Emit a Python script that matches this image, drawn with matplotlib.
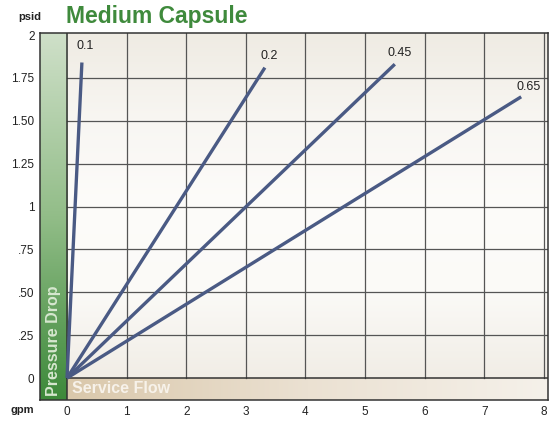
import matplotlib
matplotlib.use("Agg")
import matplotlib.pyplot as plt
import numpy as np
from matplotlib.colors import LinearSegmentedColormap

# data (line end points, start at origin)
labels = ["0.1", "0.2", "0.45", "0.65"]
end_x = [0.25, 3.32, 5.50, 7.62]
end_y = [1.84, 1.81, 1.83, 1.64]
label_x = [0.30, 3.40, 5.58, 7.75]
label_y = [1.90, 1.84, 1.86, 1.66]

xticks = [0, 1, 2, 3, 4, 5, 6, 7, 8]
yticks = [0, 0.25, 0.5, 0.75, 1.0, 1.25, 1.5, 1.75, 2.0]
ytick_labels = ["0", ".25", ".50", ".75", "1", "1.25", "1.50", "1.75", "2"]

X0, X1 = -0.453, 8.07
Y0, Y1 = -0.128, 2.012

fig = plt.figure(figsize=(5.51, 4.22), dpi=100)
ax = fig.add_axes([40 / 551, 1 - 400 / 422, 508 / 551, 367 / 422])
ax.set_xlim(X0, X1)
ax.set_ylim(Y0, Y1)

# background gradient of plot area
bg = LinearSegmentedColormap.from_list("bg", ["#efebe3", "#f8f6f2", "#fdfcfa", "#fbfaf7", "#f1ede6"])
grad = np.linspace(0, 1, 256).reshape(-1, 1)
ax.imshow(grad, cmap=bg, extent=(0, X1, 0, Y1), aspect="auto", origin="upper", zorder=0)

# green bar on the left
gr = LinearSegmentedColormap.from_list("gr", ["#cfe0c9", "#92bd88", "#3d893a"])
ax.imshow(grad, cmap=gr, extent=(X0, 0, Y0, Y1), aspect="auto", origin="upper", zorder=1)

# tan bar along the bottom
tn = LinearSegmentedColormap.from_list("tn", ["#dac8ab", "#ebe1d2", "#f5f1ea"])
ax.imshow(grad.T, cmap=tn, extent=(0, X1, Y0, 0), aspect="auto", origin="upper", zorder=1)

# grid
for x in xticks[1:]:
    ax.plot([x, x], [0, Y1], color="#555555", lw=0.9, zorder=2)
for y in yticks[1:-1]:
    ax.plot([0, X1], [y, y], color="#555555", lw=0.9, zorder=2)
ax.plot([0, 0], [Y0, Y1], color="#333333", lw=1.1, zorder=2)
ax.plot([0, X1], [0, 0], color="#333333", lw=1.1, zorder=2)

# curves
for lab, ex, ey, lx, ly in zip(labels, end_x, end_y, label_x, label_y):
    ax.plot([0, ex], [0, ey], color="#4a5a84", lw=2.4, solid_capstyle="butt", zorder=4)
    ax.text(lx, ly, lab, fontsize=9, color="#222222", ha="center", va="bottom",
            family="Liberation Sans", zorder=5)

ax.text(-0.225, -0.105, "Pressure Drop", rotation=90, ha="center", va="bottom",
        fontsize=11.5, fontweight="bold", color="#d6e7cf", family="Liberation Sans", zorder=5)
ax.text(0.08, -0.062, "Service Flow", ha="left", va="center",
        fontsize=11.5, fontweight="bold", color="#f7f2ea", family="Liberation Sans", zorder=5)

for s in ax.spines.values():
    s.set_color("#333333")
    s.set_linewidth(1.1)
    s.set_zorder(6)

ax.set_xticks(xticks)
ax.set_xticklabels([str(v) for v in xticks], fontsize=8.5, color="#222222", family="Liberation Sans")
ax.set_yticks(yticks)
ax.set_yticklabels(ytick_labels, fontsize=8.5, color="#222222", family="Liberation Sans")
ax.tick_params(length=0, pad=4)

fig.text(22 / 551, 1 - 410 / 422, "gpm", fontsize=8, fontweight="bold", ha="center", va="center",
         color="#222222", family="Liberation Sans")
fig.text(30 / 551, 1 - 17 / 422, "psid", fontsize=8, fontweight="bold", ha="center", va="center",
         color="#222222", family="Liberation Sans")
fig.text(66 / 551, 1 - 17 / 422, "Medium Capsule", fontsize=16.5, fontweight="bold",
         ha="left", va="center", color="#3f8a3c", family="Liberation Sans")

fig.savefig("out.png", dpi=100)
